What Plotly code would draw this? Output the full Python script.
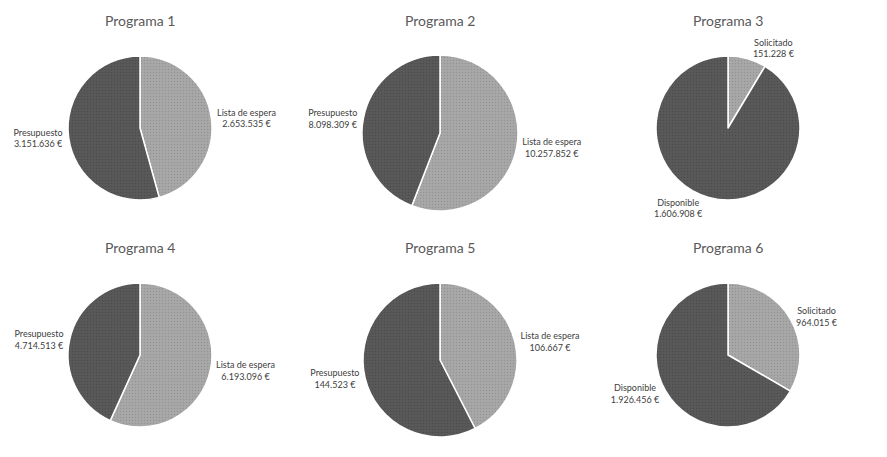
import plotly.graph_objects as go

# six programmes, each: light slice (first) + dark slice (second)
titles = ["Programa 1", "Programa 2", "Programa 3", "Programa 4", "Programa 5", "Programa 6"]
labels_1 = ["Lista de espera", "Presupuesto"]
labels_2 = ["Solicitado", "Disponible"]
values_p1 = [2653535, 3151636]
values_p2 = [10257852, 8098309]
values_p3 = [151228, 1606908]
values_p4 = [6193096, 4714513]
values_p5 = [106667, 144523]
values_p6 = [964015, 1926456]

labels = [labels_1, labels_1, labels_2, labels_1, labels_1, labels_2]
values = [values_p1, values_p2, values_p3, values_p4, values_p5, values_p6]

W, H = 887, 457
OFF = 8  # page body margin
# pie centres / radii in reference pixels
centres = [(140, 128), (440, 133), (728, 128), (140, 355), (440, 360), (728, 355)]
radii = [72, 78, 72, 72, 77, 72]
title_pos = [(140, 20), (440, 20), (728, 20), (140, 247), (440, 247), (728, 247)]

fig = go.Figure()
for i in range(6):
    cx, cy = centres[i][0] - OFF, centres[i][1] - OFF
    r = radii[i]
    fig.add_trace(go.Pie(
        labels=labels[i], values=values[i],
        sort=False, direction="clockwise", rotation=0,
        marker=dict(colors=["#a8a8a8", "#595959"], line=dict(color="white", width=1.5),
                    pattern=dict(shape=".", bgcolor=["#a8a8a8", "#595959"],
                                 fgcolor=["#939393", "#4c4c4c"], size=3, solidity=0.2)),
        textposition="outside", automargin=False,
        texttemplate="%{label}<br>%{value:,.0f} €",
        textfont=dict(family="Lato", size=9, color="#404040"),
        showlegend=False, hoverinfo="label+value",
        domain=dict(x=[(cx - r) / W, (cx + r) / W], y=[1 - (cy + r) / H, 1 - (cy - r) / H]),
    ))
    tx, ty = title_pos[i][0] - OFF, title_pos[i][1] - OFF
    fig.add_annotation(text=titles[i], x=tx / W, y=1 - ty / H, xref="paper", yref="paper",
                       xanchor="center", yanchor="middle", showarrow=False,
                       font=dict(family="Lato", size=14, color="#595959"))

fig.update_layout(width=W, height=H, margin=dict(l=0, r=0, t=0, b=0),
                  paper_bgcolor="white", separators=",.")
fig.write_html("out.html")
